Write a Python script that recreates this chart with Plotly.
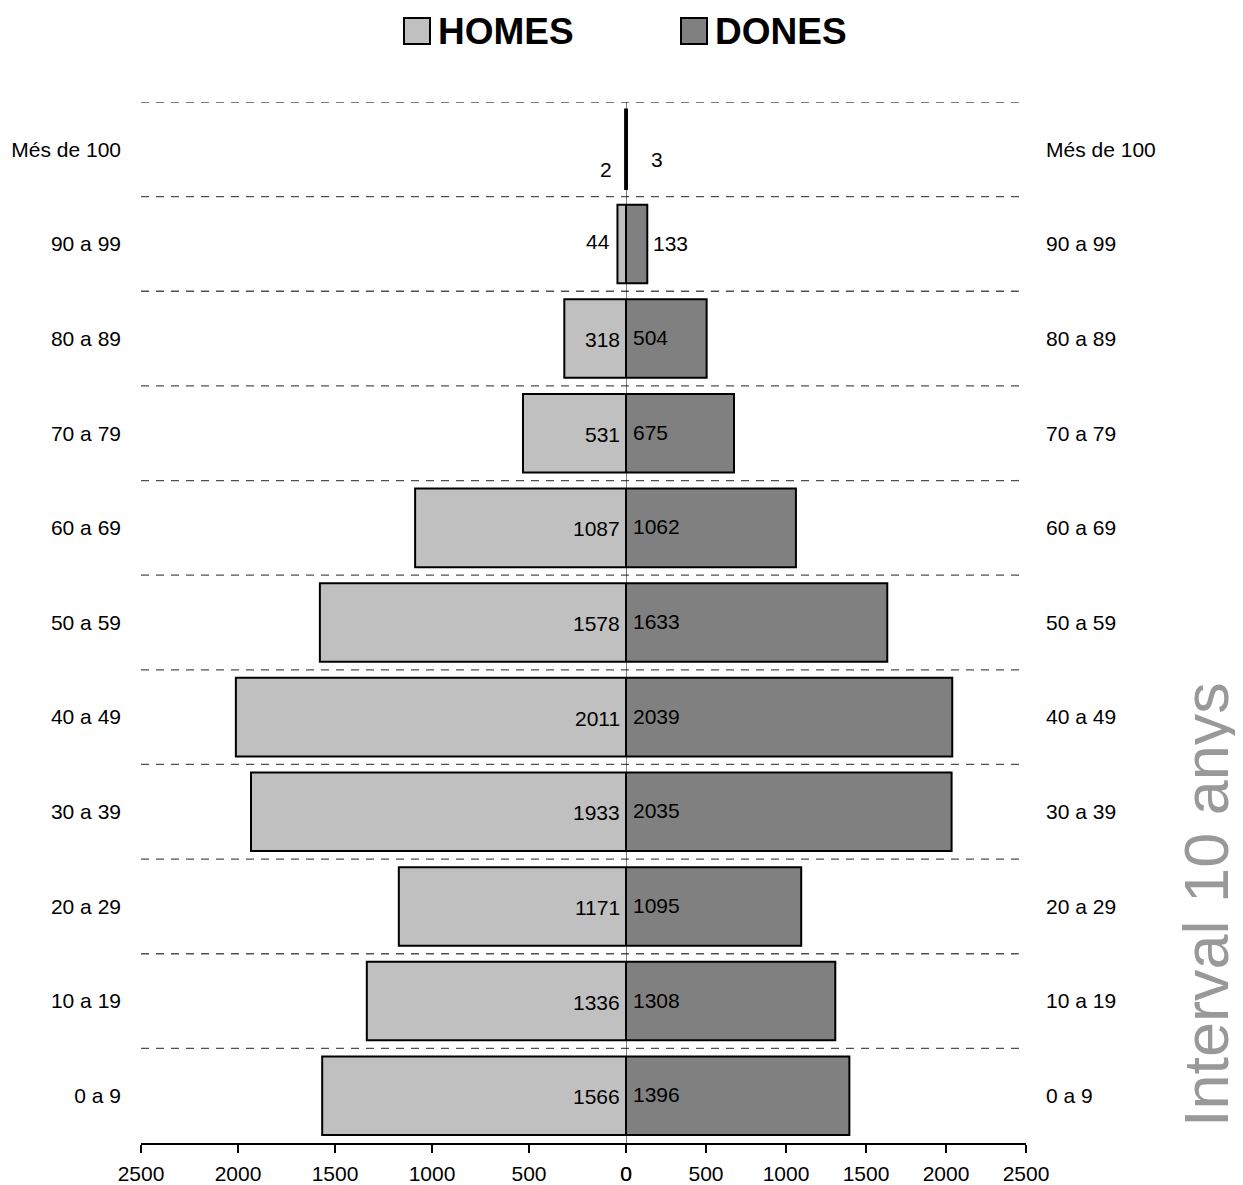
import plotly.graph_objects as go

categories = ["0 a 9", "10 a 19", "20 a 29", "30 a 39", "40 a 49", "50 a 59",
              "60 a 69", "70 a 79", "80 a 89", "90 a 99", "Més de 100"]
homes = [1566, 1336, 1171, 1933, 2011, 1578, 1087, 531, 318, 44, 2]
dones = [1396, 1308, 1095, 2035, 2039, 1633, 1062, 675, 504, 133, 3]
x_ticks = [0, 500, 1000, 1500, 2000, 2500]

FONT = "Liberation Sans, Arial, sans-serif"
C_H = "#C0C0C0"
C_D = "#808080"
OFF = 8  # page body margin
W, H = 1243 - OFF, 1185 - OFF
L = 141 - OFF
T = 102 - OFF
R = 1243 - 1026
B = 1185 - 1143
split = (626 - 141) / (1026 - 141)

ypos = list(range(len(categories)))

fig = go.Figure()
fig.add_trace(go.Bar(name="HOMES", y=ypos, x=homes, orientation="h",
                     xaxis="x", yaxis="y", width=0.83,
                     marker=dict(color=C_H, line=dict(color="black",
                                 width=[3 if v < 10 else 2 for v in homes])),
                     hoverinfo="x+name"))
fig.add_trace(go.Bar(name="DONES", y=ypos, x=dones, orientation="h",
                     xaxis="x2", yaxis="y2", width=0.83,
                     marker=dict(color=C_D, line=dict(color="black",
                                 width=[3 if v < 10 else 2 for v in dones])),
                     hoverinfo="x+name"))

ann = []
for i, (h, d) in enumerate(zip(homes, dones)):
    if h < 10:
        ann.append(dict(x=0, y=i, xref="x", yref="y", text=str(h), showarrow=False,
                        xanchor="right", xshift=-12, yshift=-20))
    elif h < 200:
        ann.append(dict(x=h, y=i, xref="x", yref="y", text=str(h), showarrow=False,
                        xanchor="right", xshift=-5, yshift=2))
    else:
        ann.append(dict(x=0, y=i, xref="x", yref="y", text=str(h), showarrow=False,
                        xanchor="right", xshift=-4, yshift=-1))
    if d < 10:
        ann.append(dict(x=0, y=i, xref="x2", yref="y2", text=str(d), showarrow=False,
                        xanchor="left", xshift=23, yshift=-10))
    elif d < 200:
        ann.append(dict(x=d, y=i, xref="x2", yref="y2", text=str(d), showarrow=False,
                        xanchor="left", xshift=4, yshift=0))
    else:
        ann.append(dict(x=0, y=i, xref="x2", yref="y2", text=str(d), showarrow=False,
                        xanchor="left", xshift=5, yshift=1))
for a in ann:
    a["font"] = dict(family=FONT, size=21, color="black")

def px(xp):
    return (xp - 141) / (1026 - 141)

def py(yp):
    return (1143 - yp) / (1143 - 102)

# legend
ann.append(dict(x=px(436), y=py(31), xref="paper", yref="paper", text="<b>HOMES</b>",
                showarrow=False, xanchor="left", yanchor="middle",
                font=dict(family=FONT, size=37, color="black")))
ann.append(dict(x=px(713), y=py(31), xref="paper", yref="paper", text="<b>DONES</b>",
                showarrow=False, xanchor="left", yanchor="middle",
                font=dict(family=FONT, size=37, color="black")))
ann.append(dict(x=px(1206), y=py(905), xref="paper", yref="paper", text="Interval 10 anys",
                showarrow=False, xanchor="center", yanchor="middle", textangle=-90,
                font=dict(family=FONT, size=63, color="#999999")))

shapes = []
for i in range(len(categories)):
    shapes.append(dict(type="line", xref="paper", yref="y", x0=0, x1=1,
                       y0=i + 0.5, y1=i + 0.5,
                       line=dict(color="#505050", width=1.3, dash="8px,7px"), layer="below"))
shapes.append(dict(type="line", xref="x2", yref="paper", x0=0, x1=0, y0=0, y1=1,
                   line=dict(color="black", width=1)))
shapes.append(dict(type="rect", xref="paper", yref="paper", x0=px(404), x1=px(430),
                   y0=py(44), y1=py(18), fillcolor=C_H, line=dict(color="black", width=2)))
shapes.append(dict(type="rect", xref="paper", yref="paper", x0=px(681), x1=px(707),
                   y0=py(44), y1=py(18), fillcolor=C_D, line=dict(color="black", width=2)))

axis_common = dict(showgrid=False, zeroline=False, showline=True, linecolor="black",
                   linewidth=2, ticks="outside", ticklen=8, tickwidth=2, tickcolor="black",
                   tickvals=x_ticks, ticktext=[str(v) for v in x_ticks],
                   ticklabelstandoff=3, automargin=False,
                   tickfont=dict(family=FONT, size=21, color="black"), fixedrange=True)

yaxis_common = dict(range=[-0.5, len(categories) - 0.5], tickvals=ypos, ticktext=categories,
                    showgrid=False, zeroline=False, showline=False, ticks="",
                    ticklabelstandoff=19, automargin=False,
                    tickfont=dict(family=FONT, size=21, color="black"))

fig.update_layout(
    width=W, height=H,
    margin=dict(l=L, r=R, t=T, b=B, pad=0),
    paper_bgcolor="white", plot_bgcolor="white",
    showlegend=False, barmode="overlay",
    xaxis=dict(domain=[0, split], range=[2500, 0], anchor="y", **axis_common),
    xaxis2=dict(domain=[split, 1], range=[0, 2500], anchor="y2", **axis_common),
    yaxis=dict(anchor="x", side="left", **yaxis_common),
    yaxis2=dict(anchor="x2", side="right", matches="y", **yaxis_common),
    annotations=ann, shapes=shapes,
)

fig.write_html("out.html")
